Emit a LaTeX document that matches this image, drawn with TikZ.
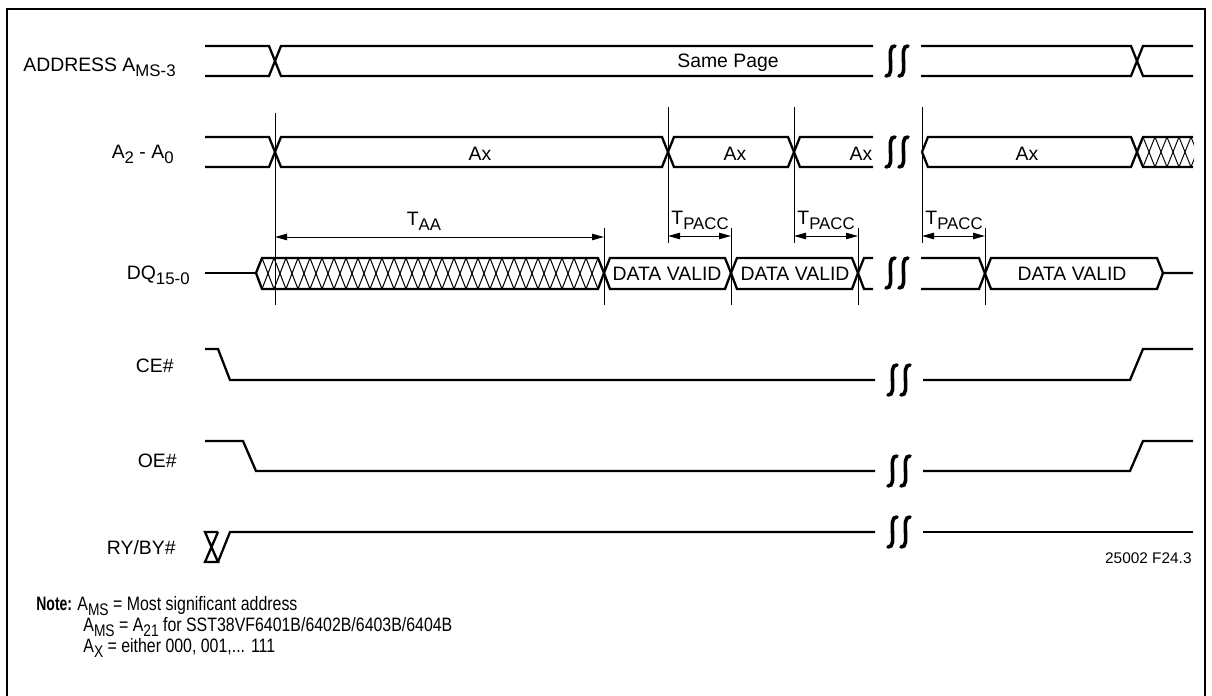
\documentclass[tikz,border=0pt]{standalone}
\usepackage{fontspec}
\usepackage{graphicx}
\setmainfont{Liberation Sans}
\usetikzlibrary{arrows.meta}
\newcommand{\lsub}[1]{\raisebox{-2.5pt}{\fontsize{8.4pt}{9pt}\selectfont #1}}
\newcommand{\narrow}[2]{\scalebox{#1}[1]{#2}}

\tikzset{
  wire/.style={line width=1.15pt},
  hair/.style={line width=0.5pt},
  timespan/.style={hair, {Triangle[length=6pt,width=3.2pt]}-{Triangle[length=6pt,width=3.2pt]}},
  siglabel/.style={anchor=base east, inner sep=0pt, font=\fontsize{9.7pt}{11pt}\selectfont},
  txt/.style={anchor=base, inner sep=0pt, font=\fontsize{9.7pt}{11pt}\selectfont},
  notetxt/.style={anchor=base west, inner sep=0pt, font=\fontsize{9.7pt}{11pt}\selectfont},
  brk/.pic={\foreach \dx in {-6.5,6.5}
    \draw[line width=1.8pt, line cap=round] (\dx+4.5,-15) .. controls (\dx-6,-16) and (\dx+6,16) .. (\dx-4.5,15);}
}

\begin{document}
\begin{tikzpicture}[x=0.5pt, y=-0.5pt]
  \useasboundingbox (0,0) rectangle (1212,696);
  \draw[line width=1pt] (7,696) -- (7,9) -- (1205,9) -- (1205,696);

  % signal names
  \node[siglabel] (lAddr) at (176,71) {ADDRESS A\lsub{MS-3}};
  \node[siglabel] (lAx) at (174,158) {A\lsub{2} - A\lsub{0}};
  \node[siglabel] (lDQ) at (190,279) {DQ\lsub{15-0}};
  \node[siglabel] (lCE) at (174,372) {CE\#};
  \node[siglabel] (lOE) at (177,467) {OE\#};
  \node[siglabel] (lRY) at (176,554) {RY/BY\#};

  % ADDRESS
  \draw[wire] (205,46) -- (269,46) -- (281,76) -- (873,76);
  \draw[wire] (205,76) -- (269,76) -- (281,46) -- (873,46);
  \draw[wire] (921,46) -- (1131,46) -- (1143,76) -- (1193,76);
  \draw[wire] (921,76) -- (1131,76) -- (1143,46) -- (1193,46);
  \node[txt] (same) at (728,68) {Same Page};

  % A2 - A0
  \draw[wire] (205,137) -- (269,137) -- (281,167) -- (662,167) -- (674,137) -- (788,137) -- (800,167) -- (873,167);
  \draw[wire] (205,167) -- (269,167) -- (281,137) -- (662,137) -- (674,167) -- (788,167) -- (800,137) -- (873,137);
  \draw[wire] (922,152) -- (928,137) -- (1131,137) -- (1143,167) -- (1193,167);
  \draw[wire] (922,152) -- (928,167) -- (1131,167) -- (1143,137) -- (1193,137);
  \begin{scope}
    \clip (1137,152) -- (1143,137) -- (1194,137) -- (1194,167) -- (1143,167) -- cycle;
    \foreach \k in {1,...,5} {
      \draw[hair] ({1131+12*\k},167) -- ({1143+12*\k},137);
      \draw[hair] ({1131+12*\k},137) -- ({1143+12*\k},167);
    }
  \end{scope}
  \node[txt] (ax1) at (480,160) {Ax};
  \node[txt] (ax2) at (735,160) {Ax};
  \node[txt] (ax3) at (861,160) {Ax};
  \node[txt] (ax4) at (1027,160) {Ax};

  % DQ15-0
  \draw[wire] (205,273) -- (256,273);
  \begin{scope}
    \clip (256,273) -- (262,258) -- (598,258) -- (604,273) -- (598,289) -- (262,289) -- cycle;
    \foreach \k in {0,...,29} {
      \draw[hair] ({250+12*\k},289) -- ({262+12*\k},258);
      \draw[hair] ({250+12*\k},258) -- ({262+12*\k},289);
    }
  \end{scope}
  \draw[wire] (256,273) -- (262,258) -- (598,258) -- (604,273) -- (598,289) -- (262,289) -- cycle;
  \draw[wire] (604,273) -- (610,258) -- (725,258) -- (731,273) -- (725,289) -- (610,289) -- cycle;
  \draw[wire] (731,273) -- (737,258) -- (852,258) -- (858,273) -- (852,289) -- (737,289) -- cycle;
  \draw[wire] (873,258) -- (864,258) -- (858,273) -- (864,289) -- (873,289);
  \draw[wire] (921,258) -- (979,258) -- (991,289) -- (1157,289) -- (1163,273) -- (1193,273);
  \draw[wire] (921,289) -- (979,289) -- (991,258) -- (1157,258) -- (1163,273);
  \node[txt] (dv1) at (667,280) {DATA VALID};
  \node[txt] (dv2) at (795,280) {DATA VALID};
  \node[txt] (dv3) at (1072,280) {DATA VALID};

  % timing markers
  \draw[hair] (275,113) -- (275,305);
  \foreach \x in {604,731,858,985} \draw[hair] (\x,228) -- (\x,305);
  \foreach \x in {668,794,922} \draw[hair] (\x,107) -- (\x,243);
  \coordinate (taaL) at (275,237);
  \coordinate (taaR) at (604,237);
  \coordinate (tp1L) at (668,236);
  \coordinate (tp1R) at (731,236);
  \coordinate (tp2L) at (794,236);
  \coordinate (tp2R) at (858,236);
  \coordinate (tp3L) at (922,236);
  \coordinate (tp3R) at (985,236);
  \draw[timespan] (taaL) -- (taaR);
  \draw[timespan] (tp1L) -- (tp1R);
  \draw[timespan] (tp2L) -- (tp2R);
  \draw[timespan] (tp3L) -- (tp3R);
  \node[txt] (taa) at (424,225) {T\lsub{AA}};
  \node[txt, anchor=base west] (tp1) at (671,224) {T\lsub{PACC}};
  \node[txt, anchor=base west] (tp2) at (797,224) {T\lsub{PACC}};
  \node[txt, anchor=base west] (tp3) at (925,224) {T\lsub{PACC}};

  % CE#, OE#, RY/BY#
  \draw[wire] (205,349) -- (218,349) -- (230,380) -- (875,380);
  \draw[wire] (923,380) -- (1130,380) -- (1143,349) -- (1193,349);
  \draw[wire] (205,441) -- (243,441) -- (256,471) -- (875,471);
  \draw[wire] (923,471) -- (1130,471) -- (1143,441) -- (1193,441);
  \draw[wire] (218,532) -- (205,532) -- (218,562) -- (205,562) -- (218,532);
  \draw[wire] (218,562) -- (230,532) -- (875,532);
  \draw[wire] (923,532) -- (1193,532);

  % breaks
  \foreach \y in {61,152,273} \pic at (897,\y) {brk};
  \foreach \y in {380,471,532} \pic at (899,\y) {brk};

  \node[anchor=base east, inner sep=0pt, font=\fontsize{7.7pt}{9pt}\selectfont] (fig) at (1192,563) {25002 F24.3};

  % note
  \node[notetxt] (note) at (36,610) {\narrow{0.72}{\bfseries Note:}};
  \node[notetxt] (n1) at (77,610) {\narrow{0.82}{A\lsub{MS} = Most significant address}};
  \node[notetxt] (n2) at (83,631) {\narrow{0.82}{A\lsub{MS} = A\lsub{21} for SST38VF6401B/6402B/6403B/6404B}};
  \node[notetxt] (n3) at (83,652) {\narrow{0.82}{A\lsub{X} = either 000, 001,... 111}};
\end{tikzpicture}
\end{document}
